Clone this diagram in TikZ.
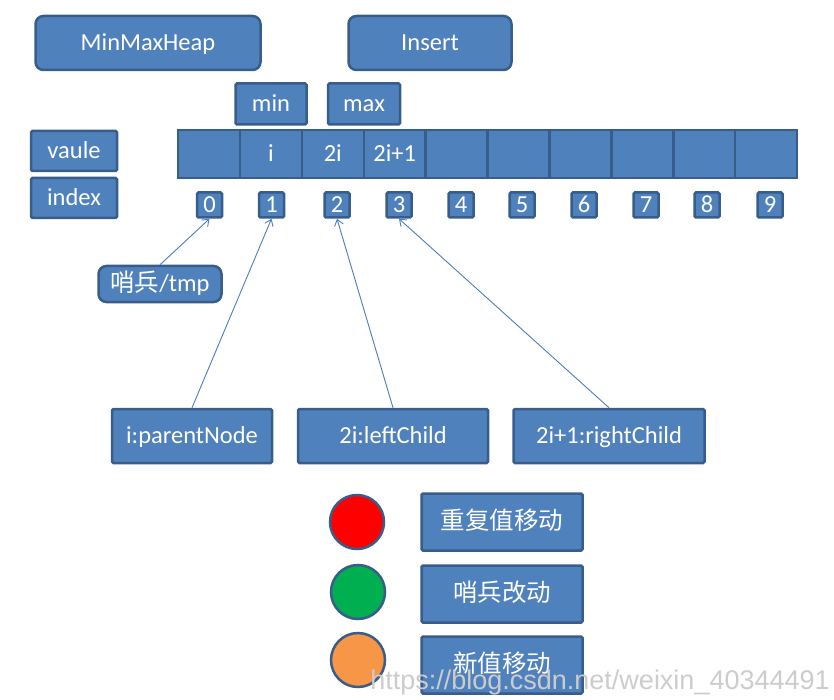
\documentclass[tikz,border=0pt]{standalone}
\usepackage{fontspec}
\setmainfont{Carlito}
\newfontfamily\cjk{Noto Sans CJK SC}
\newfontfamily\wmark{Liberation Sans}
\usetikzlibrary{arrows.meta}
\definecolor{boxfill}{HTML}{4F81BD}
\definecolor{boxline}{HTML}{385D8A}
\definecolor{ptr}{HTML}{4A7EBB}
\definecolor{dotred}{HTML}{FF0000}
\definecolor{dotgreen}{HTML}{00B050}
\definecolor{dotorange}{HTML}{F79646}

\tikzset{
    label text/.style={text=white, font=\fontsize{24.5}{28}\selectfont, text height=20pt, text depth=4.6pt},
    box/.style={draw=boxline, fill=boxfill, line width=2.5pt, rounded corners=1.5pt,
        label text, inner sep=0pt, anchor=center},
    roundbox/.style={box, rounded corners=8pt},
    cell/.style={box, rounded corners=0pt, minimum width=61.9pt, minimum height=48pt},
    idx/.style={box, minimum width=25pt, minimum height=25pt},
    dot/.style={circle, draw=boxline, line width=2.5pt, minimum size=54pt, inner sep=0pt},
    pointer/.style={draw=ptr, line width=0.9pt, -{Straight Barb[length=6pt, width=9pt]}}
}

\begin{document}
\begin{tikzpicture}[x=1pt, y=-1pt]
    \useasboundingbox (0, 0) rectangle (834, 700);

    % titles
    \node[roundbox, minimum width=225pt, minimum height=54pt] (heap) at (148, 43) {MinMaxHeap};
    \node[roundbox, minimum width=163pt, minimum height=54pt] (insert) at (430, 43) {Insert};
    \node[box, minimum width=71pt, minimum height=41pt] (min) at (271, 104) {min};
    \node[box, minimum width=72pt, minimum height=41pt] (max) at (364, 104) {max};

    % row labels
    \node[box, minimum width=86pt, minimum height=40pt] (vaule) at (74, 151) {vaule};
    \node[box, minimum width=86pt, minimum height=40pt] (index) at (74, 198) {index};

    % array cells
    \foreach \i in {0, ..., 9} {
        \node[cell] (c\i) at (209 + 61.9*\i, 154) {};
    }
    \node[label text, inner sep=0pt] (v1) at (c1) {i};
    \node[label text, inner sep=0pt] (v2) at (c2) {2i};
    \node[label text, inner sep=0pt] (v3) at (c3) {2i+1};

    % index boxes
    \foreach \i/\x in {0/209.5, 1/271.5, 2/337, 3/399, 4/461, 5/522, 6/584, 7/646, 8/707, 9/770} {
        \node[idx] (n\i) at (\x, 205) {\i};
    }

    % pointers
    \node[roundbox, minimum width=123pt, minimum height=36pt] (tmp) at (160, 284) {{\cjk 哨兵}/tmp};
    \node[box, minimum width=160pt, minimum height=54pt] (parent) at (192, 436) {i:parentNode};
    \node[box, minimum width=190pt, minimum height=54pt] (left) at (393, 436) {2i:leftChild};
    \node[box, minimum width=191pt, minimum height=54pt] (right) at (609, 436) {2i+1:rightChild};

    \draw[pointer] (tmp.north) -- (n0.south);
    \draw[pointer] (parent.north) -- (n1.south);
    \draw[pointer] (left.north) -- (n2.south);
    \draw[pointer] (right.north) -- (n3.south);

    % legend
    \node[dot, fill=dotred] (red) at (357, 522) {};
    \node[dot, fill=dotgreen] (green) at (358, 592) {};
    \node[dot, fill=dotorange] (orange) at (358, 660) {};
    \node[box, minimum width=161pt, minimum height=57pt] (dup) at (502, 522) {\cjk 重复值移动};
    \node[box, minimum width=161pt, minimum height=57pt] (guard) at (502, 594) {\cjk 哨兵改动};
    \node[box, minimum width=161pt, minimum height=57pt] (new) at (502, 665) {\cjk 新值移动};

    % watermark
    \node[anchor=base, inner sep=0pt, text=black!20, font=\wmark\fontsize{27}{30}\selectfont] (mark) at (600, 689) {https://blog.csdn.net/weixin\_40344491};
\end{tikzpicture}
\end{document}
